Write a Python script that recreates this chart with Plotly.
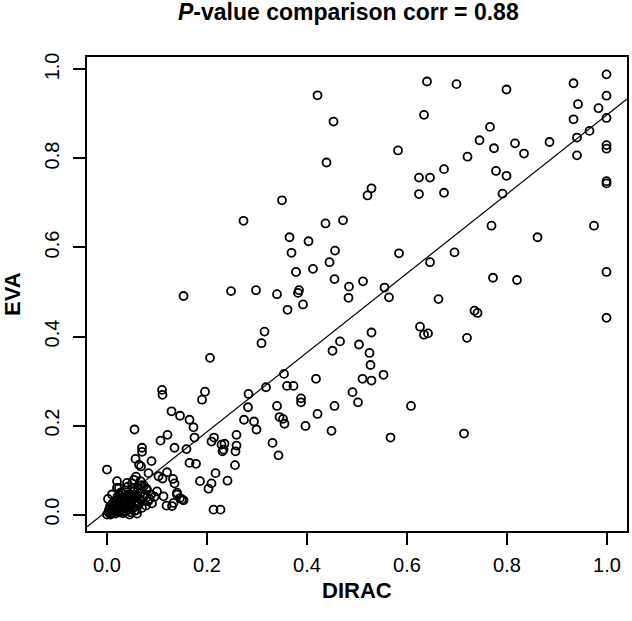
import plotly.graph_objects as go

# DIRAC (x) and EVA (y) p-values
dirac = [
    0.421, 0.453, 0.439, 0.350, 0.273, 0.437, 0.472, 0.365, 0.403, 0.369,
    0.456, 0.445, 0.378, 0.412, 0.455, 0.484, 0.384, 0.382, 0.512, 0.248,
    0.298, 0.340, 0.153, 0.483,
    0.640, 0.699, 0.799, 0.933, 0.999, 0.999, 0.634, 0.942, 0.983, 0.933,
    0.999, 0.766, 0.965, 0.940, 0.745, 0.816, 0.885, 0.774, 0.834, 0.999,
    0.999, 0.582, 0.721, 0.940, 0.674, 0.624, 0.646, 0.778, 0.799, 0.529,
    0.521, 0.624, 0.674, 0.791, 0.999, 0.999, 0.769, 0.974, 0.861, 0.584,
    0.695, 0.646, 0.999, 0.772, 0.820, 0.555, 0.564, 0.663,
    0.735, 0.741, 0.999, 0.626, 0.634, 0.642, 0.720, 0.529, 0.504, 0.525,
    0.527, 0.553, 0.511, 0.529, 0.491, 0.502, 0.608, 0.567, 0.714,
    0.361, 0.392, 0.315, 0.309, 0.206, 0.451, 0.466, 0.354, 0.418, 0.318,
    0.360, 0.373, 0.283, 0.282, 0.340, 0.388, 0.388, 0.455, 0.345, 0.352,
    0.355, 0.421, 0.397, 0.449, 0.274, 0.294, 0.299, 0.331, 0.343, 0.110,
    0.111, 0.196, 0.190, 0.129, 0.146, 0.165, 0.173, 0.055, 0.121, 0.107,
    0.175, 0.135, 0.159, 0.214, 0.209, 0.259, 0.235, 0.231, 0.259, 0.257,
    0.256, 0.165, 0.178, 0.070, 0.057, 0.089, 0.068, 0.000, 0.186, 0.217,
    0.209, 0.203, 0.241, 0.103, 0.111, 0.120, 0.132, 0.135, 0.100, 0.113,
    0.140, 0.146, 0.153, 0.119, 0.130, 0.213, 0.227, 0.070, 0.229, 0.233,
    0.064, 0.083, 0.020, 0.024, 0.040, 0.054, 0.064, 0.140, 0.150, 0.133,
    0.000, 0.003, 0.005, 0.008, 0.010, 0.012, 0.014, 0.015, 0.017, 0.018,
    0.020, 0.021, 0.023, 0.024, 0.025, 0.027, 0.028, 0.030, 0.030, 0.032,
    0.033, 0.035, 0.036, 0.037, 0.039, 0.040, 0.041, 0.043, 0.044, 0.046,
    0.047, 0.048, 0.050, 0.051, 0.053, 0.054, 0.056, 0.058, 0.059, 0.060,
    0.062, 0.063, 0.065, 0.067, 0.068, 0.070, 0.072, 0.074, 0.076, 0.078,
    0.080, 0.085, 0.090, 0.095, 0.007, 0.045, 0.060, 0.002, 0.010, 0.020,
    0.004, 0.006, 0.009, 0.011, 0.013, 0.016, 0.019, 0.022, 0.026, 0.029,
    0.031, 0.034, 0.038, 0.042, 0.045, 0.049, 0.052, 0.055, 0.057, 0.061,
    0.066, 0.069, 0.073, 0.079, 0.082, 0.088, 0.015, 0.028, 0.036, 0.050,
]
eva = [
    0.942, 0.883, 0.791, 0.706, 0.660, 0.654, 0.661, 0.623, 0.614, 0.588,
    0.593, 0.567, 0.545, 0.552, 0.529, 0.512, 0.504, 0.498, 0.524, 0.502,
    0.504, 0.495, 0.491, 0.487,
    0.973, 0.967, 0.955, 0.969, 0.989, 0.941, 0.898, 0.922, 0.913, 0.888,
    0.891, 0.871, 0.862, 0.847, 0.841, 0.834, 0.837, 0.823, 0.811, 0.830,
    0.822, 0.818, 0.804, 0.807, 0.776, 0.757, 0.757, 0.772, 0.761, 0.733,
    0.717, 0.720, 0.723, 0.721, 0.749, 0.744, 0.649, 0.649, 0.623, 0.587,
    0.589, 0.567, 0.545, 0.532, 0.527, 0.510, 0.488, 0.484,
    0.458, 0.453, 0.442, 0.422, 0.404, 0.407, 0.397, 0.409, 0.382, 0.363,
    0.336, 0.314, 0.305, 0.301, 0.275, 0.252, 0.244, 0.173, 0.182,
    0.460, 0.472, 0.411, 0.385, 0.352, 0.368, 0.389, 0.316, 0.305, 0.286,
    0.289, 0.289, 0.271, 0.241, 0.244, 0.261, 0.252, 0.244, 0.219, 0.215,
    0.204, 0.226, 0.199, 0.188, 0.213, 0.209, 0.191, 0.161, 0.133, 0.280,
    0.269, 0.276, 0.258, 0.232, 0.222, 0.213, 0.196, 0.191, 0.179, 0.166,
    0.173, 0.150, 0.147, 0.173, 0.164, 0.179, 0.159, 0.142, 0.155, 0.142,
    0.111, 0.116, 0.114, 0.150, 0.125, 0.120, 0.108, 0.101, 0.075, 0.093,
    0.070, 0.058, 0.076, 0.086, 0.081, 0.095, 0.080, 0.070, 0.052, 0.041,
    0.049, 0.037, 0.032, 0.020, 0.019, 0.011, 0.011, 0.141, 0.157, 0.146,
    0.112, 0.093, 0.075, 0.060, 0.071, 0.078, 0.026, 0.045, 0.034, 0.026,
    0.000, 0.005, 0.012, 0.003, 0.020, 0.008, 0.015, 0.030, 0.002, 0.022,
    0.010, 0.040, 0.018, 0.028, 0.005, 0.035, 0.012, 0.048, 0.022, 0.003,
    0.030, 0.015, 0.055, 0.040, 0.008, 0.025, 0.062, 0.033, 0.018, 0.045,
    0.005, 0.028, 0.070, 0.038, 0.015, 0.052, 0.030, 0.085, 0.010, 0.042,
    0.060, 0.022, 0.035, 0.075, 0.050, 0.015, 0.030, 0.065, 0.045, 0.020,
    0.055, 0.035, 0.025, 0.040, 0.000, 0.000, 0.002, 0.035, 0.045, 0.060,
    0.010, 0.018, 0.006, 0.025, 0.004, 0.012, 0.032, 0.008, 0.044, 0.016,
    0.038, 0.006, 0.050, 0.012, 0.024, 0.020, 0.058, 0.008, 0.040, 0.026,
    0.048, 0.066, 0.040, 0.058, 0.030, 0.045, 0.025, 0.050, 0.022, 0.035,
]

# fitted line
fit_intercept = 0.008
fit_slope = 0.89

tick_vals = [0.0, 0.2, 0.4, 0.6, 0.8, 1.0]
tick_text = ["0.0", "0.2", "0.4", "0.6", "0.8", "1.0"]

x_range = [-0.04, 1.04]
y_range = [-0.037, 1.028]

FONT = "Liberation Sans, Arial, sans-serif"

fig = go.Figure()
fig.add_trace(go.Scatter(
    x=dirac, y=eva, mode="markers",
    marker=dict(symbol="circle-open", size=8, color="black",
                line=dict(color="black", width=1.8)),
    showlegend=False, hoverinfo="skip",
))
fig.add_trace(go.Scatter(
    x=x_range,
    y=[fit_intercept + fit_slope * v for v in x_range],
    mode="lines", line=dict(color="black", width=1.2),
    showlegend=False, hoverinfo="skip",
))

axis_common = dict(
    showgrid=False, zeroline=False,
    showline=True, mirror=True, linecolor="black", linewidth=2,
    ticks="outside", ticklen=12, tickwidth=1.5, tickcolor="black",
    tickvals=tick_vals, ticktext=tick_text,
    tickfont=dict(family=FONT, size=20, color="black"),
)

fig.update_layout(
    width=632, height=621,
    margin=dict(l=87, r=3, t=57, b=90),
    plot_bgcolor="white", paper_bgcolor="white",
    xaxis=dict(range=x_range, ticklabelstandoff=3, **axis_common),
    yaxis=dict(range=y_range, tickangle=-90, ticklabelstandoff=6, **axis_common),
    annotations=[
        dict(text="<i>P</i>-value comparison corr = 0.88", xref="paper", yref="paper",
             x=0.485, y=1.0, yshift=45, xanchor="center", yanchor="middle",
             showarrow=False, font=dict(family=FONT, size=23, color="black", weight="bold")),
        dict(text="DIRAC", xref="paper", yref="paper", x=0.5, y=0, yshift=-59,
             xanchor="center", yanchor="middle", showarrow=False,
             font=dict(family=FONT, size=22, color="black", weight="bold")),
        dict(text="EVA", xref="paper", yref="paper", x=0, y=0.5, xshift=-75,
             xanchor="center", yanchor="middle", textangle=-90, showarrow=False,
             font=dict(family=FONT, size=22, color="black", weight="bold")),
    ],
)

fig.write_html("out.html", config={"displayModeBar": False},
               post_script="document.body.style.margin='0';")
